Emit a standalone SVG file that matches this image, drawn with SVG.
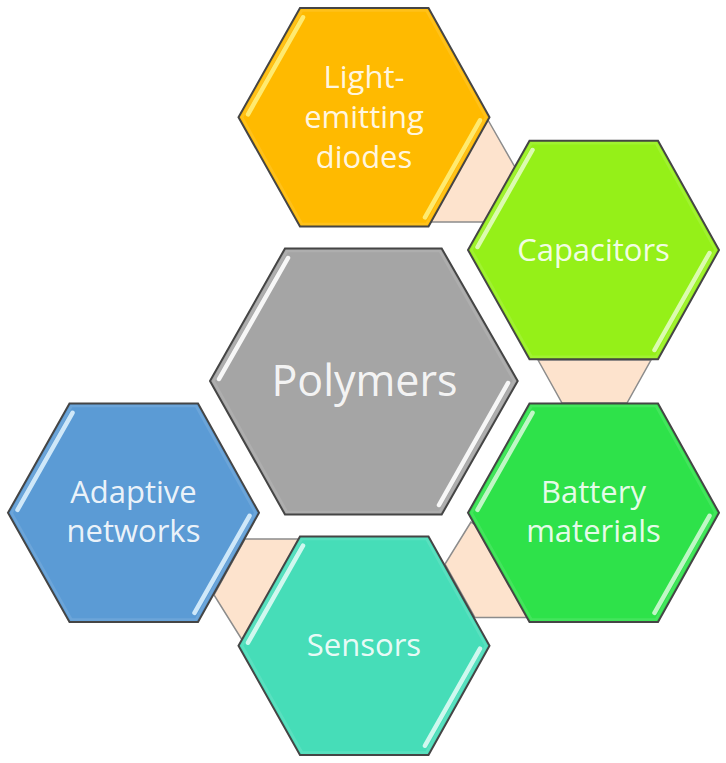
<svg xmlns="http://www.w3.org/2000/svg" xmlns:xlink="http://www.w3.org/1999/xlink" width="726" height="763" viewBox="0 0 726 763">
<style>
.conn{fill:#fde3cd;stroke:#8c8c8c;stroke-width:1.5}
.hex{stroke:#454545;stroke-width:2;stroke-linejoin:miter}
.bevel{fill:none;stroke:#fff;stroke-opacity:.1;stroke-width:2.500}
.shine{fill:none;stroke-width:4.500;stroke-linecap:round}
.lbl{font-family:"Open Sans","Noto Sans","Liberation Sans",sans-serif;fill:#fff;fill-opacity:.9;text-anchor:middle;font-size:31px}
</style>
<defs>
<polygon id="h" points="-125.500,0 -64,-109.200 64.500,-109.200 125.500,0 64.500,109.200 -64,109.200"/>
<polygon id="b" points="-122,0 -62,-106.700 62.500,-106.700 122,0 62.500,106.700 -62,106.700"/>
<path id="s" d="M-61,-100 L-116,-3 M116,3 L61,100"/>
<filter id="soft" x="-5%" y="-5%" width="110%" height="110%"><feGaussianBlur stdDeviation="0.5"/></filter>
</defs>
<g id="connectors">
<polygon class="conn" points="488,120 520,176 495,222 420,222"/>
<polygon class="conn" points="538,360 562,403 627,403 651,360"/>
<polygon class="conn" points="471,522 445,564 475,617.500 540,617.500 500,540"/>
<polygon class="conn" points="245,539 310,539 260,640 241.500,639 214,595"/>
</g>
<g id="node-leds" transform="translate(364,117.300)">
<use xlink:href="#h" class="hex" fill="#ffba00"/>
<use xlink:href="#b" class="bevel" filter="url(#soft)"/>
<use xlink:href="#s" class="shine" stroke="#ffea70" filter="url(#soft)"/>
<text class="lbl" y="-29.500">Light-</text><text class="lbl" y="10.500">emitting</text><text class="lbl" y="50.500">diodes</text>
</g>
<g id="node-capacitors" transform="translate(593.500,250)">
<use xlink:href="#h" class="hex" fill="#95f018"/>
<use xlink:href="#b" class="bevel" filter="url(#soft)"/>
<use xlink:href="#s" class="shine" stroke="#dcfbb0" filter="url(#soft)"/>
<text class="lbl" y="10.500">Capacitors</text>
</g>
<g id="node-polymers">
<polygon class="hex" fill="#a5a5a5" points="210,381 285,248.500 441.700,248.500 517.700,381 441.700,514.500 285,514.500"/>
<polygon class="bevel" filter="url(#soft)" points="213.500,381 287,251 439.700,251 514.200,381 439.700,512 287,512"/>
<path class="shine" stroke="#f7f7f7" filter="url(#soft)" d="M288,258 L219,379 M508,383 L439,505"/>
<text class="lbl" x="364.500" y="395.500" style="font-size:43px">Polymers</text>
</g>
<g id="node-battery" transform="translate(593.500,512.800)">
<use xlink:href="#h" class="hex" fill="#2ee24a"/>
<use xlink:href="#b" class="bevel" filter="url(#soft)"/>
<use xlink:href="#s" class="shine" stroke="#c0f7c6" filter="url(#soft)"/>
<text class="lbl" y="-9.500">Battery</text><text class="lbl" y="29.500">materials</text>
</g>
<g id="node-sensors" transform="translate(364,645.700)">
<use xlink:href="#h" class="hex" fill="#46ddb8"/>
<use xlink:href="#b" class="bevel" filter="url(#soft)"/>
<use xlink:href="#s" class="shine" stroke="#d0f8ef" filter="url(#soft)"/>
<text class="lbl" y="10.500">Sensors</text>
</g>
<g id="node-adaptive" transform="translate(133.500,512.800)">
<use xlink:href="#h" class="hex" fill="#5b9bd5"/>
<use xlink:href="#b" class="bevel" filter="url(#soft)"/>
<use xlink:href="#s" class="shine" stroke="#cfe8f9" filter="url(#soft)"/>
<text class="lbl" y="-9.500">Adaptive</text><text class="lbl" y="29.500">networks</text>
</g>
</svg>
